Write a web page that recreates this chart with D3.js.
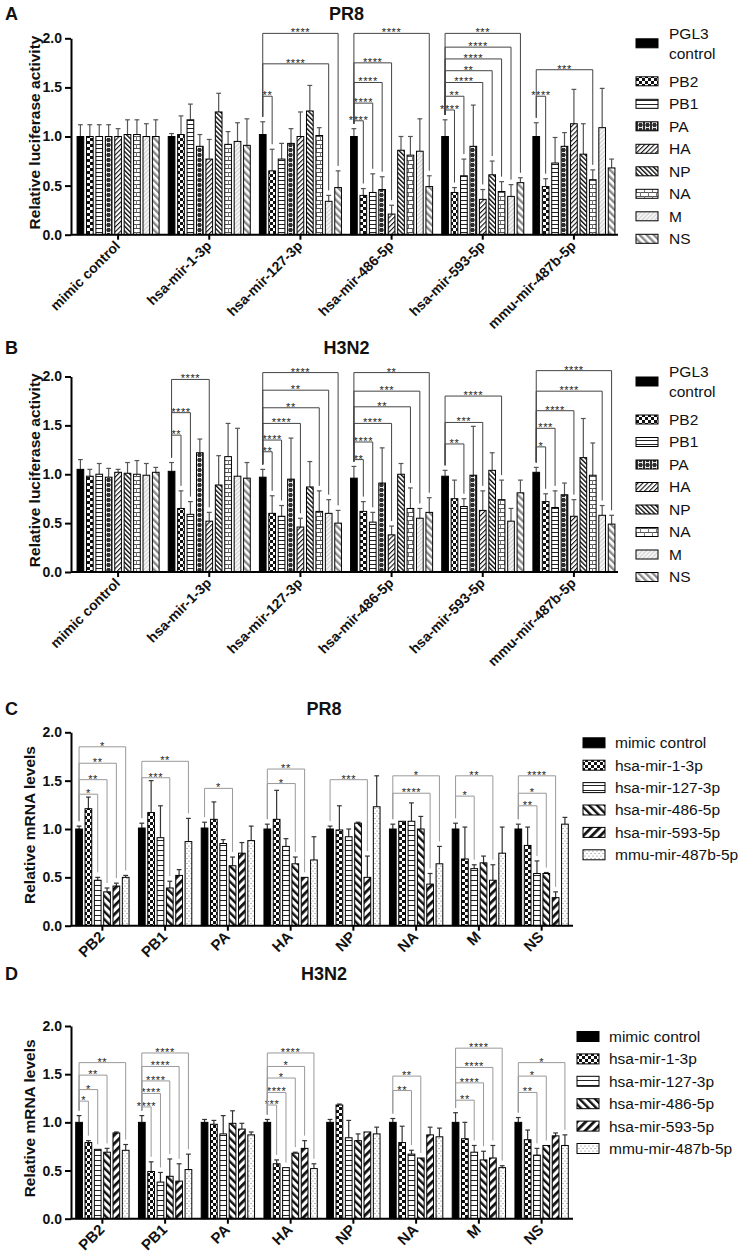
<!DOCTYPE html>
<html><head><meta charset="utf-8">
<script src="https://cdn.jsdelivr.net/npm/d3@7"></script>
<style>body{margin:0;background:#fff;} svg{display:block;font-family:Arial,"Liberation Sans",sans-serif;}</style>
</head><body>
<svg id="chart" width="744" height="1257"></svg>
<script>
// ---------------- DATA ----------------
const lucGroups = ["mimic control","hsa-mir-1-3p","hsa-mir-127-3p","hsa-mir-486-5p","hsa-mir-593-5p","mmu-mir-487b-5p"];
const lucSeries = ["PGL3 control","PB2","PB1","PA","HA","NP","NA","M","NS"];
const mrnaGroups = ["PB2","PB1","PA","HA","NP","NA","M","NS"];
const mrnaSeries = ["mimic control","hsa-mir-1-3p","hsa-mir-127-3p","hsa-mir-486-5p","hsa-mir-593-5p","mmu-mir-487b-5p"];
const yTicks = [0,0.5,1.0,1.5,2.0];

// Panel A: PR8 luciferase (rows = groups, cols = series)
const pr8LucMeans = [
  [1.00,1.00,1.00,1.00,1.00,1.02,1.02,1.00,1.00],
  [1.00,1.02,1.17,0.90,0.77,1.25,0.92,0.95,0.91],
  [1.02,0.65,0.77,0.93,1.00,1.26,1.01,0.34,0.48],
  [1.00,0.40,0.43,0.46,0.21,0.86,0.81,0.85,0.49],
  [1.00,0.43,0.60,0.90,0.36,0.61,0.44,0.39,0.53],
  [1.00,0.49,0.73,0.90,1.13,0.82,0.56,1.09,0.68]
];
const pr8LucErr = [
  [0.12,0.12,0.12,0.12,0.08,0.15,0.15,0.13,0.17],
  [0.03,0.19,0.16,0.12,0.20,0.19,0.13,0.19,0.27],
  [0.13,0.22,0.16,0.15,0.25,0.26,0.08,0.06,0.17],
  [0.08,0.07,0.19,0.13,0.09,0.14,0.19,0.33,0.11],
  [0.17,0.05,0.17,0.42,0.10,0.14,0.10,0.12,0.05],
  [0.14,0.08,0.26,0.14,0.35,0.31,0.10,0.40,0.09]
];
// [group, target series, bracket level, label]
const pr8LucSig = [
  [2,1,1.41,"**"],[2,7,1.74,"****"],[2,8,2.05,"****"],
  [3,1,1.16,"****"],[3,2,1.34,"****"],[3,3,1.55,"****"],[3,4,1.75,"****"],[3,8,2.05,"****"],
  [4,1,1.27,"****"],[4,2,1.41,"**"],[4,4,1.55,"****"],[4,5,1.67,"**"],[4,6,1.79,"****"],[4,7,1.91,"****"],[4,8,2.05,"***"],
  [5,1,1.41,"****"],[5,6,1.68,"***"]
];

// Panel B: H3N2 luciferase
const h3n2LucMeans = [
  [1.05,0.98,1.00,0.97,1.02,1.01,1.00,0.99,1.02],
  [1.03,0.65,0.59,1.22,0.52,0.89,1.18,0.98,0.96],
  [0.97,0.60,0.57,0.95,0.46,0.87,0.62,0.60,0.50],
  [0.96,0.62,0.51,0.91,0.38,1.00,0.65,0.55,0.61],
  [0.98,0.75,0.67,0.99,0.63,1.04,0.74,0.52,0.81],
  [1.02,0.72,0.66,0.79,0.57,1.17,0.99,0.58,0.49]
];
const h3n2LucErr = [
  [0.10,0.07,0.11,0.09,0.03,0.11,0.14,0.12,0.05],
  [0.09,0.18,0.13,0.14,0.09,0.30,0.34,0.49,0.16],
  [0.08,0.18,0.11,0.42,0.09,0.26,0.21,0.14,0.13],
  [0.12,0.10,0.10,0.36,0.09,0.11,0.21,0.10,0.15],
  [0.06,0.19,0.08,0.50,0.20,0.18,0.20,0.13,0.13],
  [0.05,0.08,0.17,0.12,0.17,0.40,0.33,0.10,0.09]
];
const h3n2LucSig = [
  [1,1,1.40,"**"],[1,2,1.63,"****"],[1,4,1.97,"****"],
  [2,1,1.23,"**"],[2,2,1.35,"****"],[2,4,1.52,"****"],[2,6,1.68,"**"],[2,7,1.86,"**"],[2,8,2.04,"****"],
  [3,1,1.15,"**"],[3,2,1.33,"****"],[3,4,1.52,"****"],[3,6,1.69,"**"],[3,7,1.85,"***"],[3,8,2.04,"**"],
  [4,2,1.31,"**"],[4,4,1.53,"***"],[4,6,1.80,"****"],
  [5,1,1.28,"*"],[5,2,1.47,"***"],[5,4,1.65,"****"],[5,7,1.85,"****"],[5,8,2.06,"****"]
];

// Panel C: PR8 mRNA
const pr8MrnaMeans = [
  [1.00,1.21,0.47,0.35,0.41,0.50],
  [1.01,1.17,0.91,0.39,0.52,0.87],
  [1.01,1.10,0.85,0.62,0.75,0.88],
  [1.00,1.10,0.82,0.64,0.50,0.68],
  [1.00,0.99,0.92,1.06,0.50,1.23],
  [1.00,1.08,1.08,1.00,0.43,0.64],
  [1.00,0.69,0.59,0.65,0.47,0.75],
  [1.00,0.83,0.54,0.54,0.29,1.05]
];
const pr8MrnaErr = [
  [0.03,0.12,0.03,0.04,0.03,0.02],
  [0.05,0.33,0.33,0.07,0.06,0.24],
  [0.06,0.18,0.04,0.09,0.11,0.15],
  [0.05,0.30,0.08,0.07,0.00,0.24],
  [0.03,0.25,0.08,0.01,0.22,0.32],
  [0.05,0.00,0.19,0.13,0.11,0.18],
  [0.06,0.33,0.04,0.07,0.16,0.27],
  [0.05,0.19,0.13,0.01,0.06,0.07]
];
const pr8MrnaSig = [
  [0,2,1.36,"*"],[0,3,1.51,"**"],[0,4,1.68,"**"],[0,5,1.85,"*"],
  [1,3,1.53,"***"],[1,5,1.70,"**"],
  [2,3,1.42,"*"],
  [3,3,1.47,"*"],[3,4,1.62,"**"],
  [4,4,1.51,"***"],
  [5,4,1.37,"****"],[5,5,1.55,"*"],
  [6,2,1.34,"*"],[6,4,1.55,"**"],
  [7,2,1.24,"**"],[7,3,1.37,"*"],[7,4,1.55,"****"]
];

// Panel D: H3N2 mRNA
const h3n2MrnaMeans = [
  [1.00,0.79,0.72,0.69,0.89,0.71],
  [1.00,0.49,0.38,0.44,0.39,0.51],
  [1.00,0.98,0.88,0.99,0.93,0.87],
  [1.00,0.57,0.53,0.68,0.73,0.52],
  [1.00,1.18,0.84,0.81,0.90,0.88],
  [1.00,0.79,0.67,0.63,0.87,0.85],
  [1.00,0.83,0.69,0.61,0.63,0.53],
  [1.00,0.82,0.66,0.76,0.86,0.76]
];
const h3n2MrnaErr = [
  [0.07,0.02,0.00,0.04,0.01,0.06],
  [0.07,0.10,0.10,0.18,0.18,0.16],
  [0.03,0.04,0.19,0.13,0.06,0.03],
  [0.03,0.04,0.00,0.01,0.08,0.05],
  [0.03,0.01,0.18,0.07,0.00,0.07],
  [0.04,0.17,0.04,0.00,0.08,0.09],
  [0.10,0.17,0.07,0.09,0.13,0.02],
  [0.05,0.10,0.07,0.00,0.03,0.11]
];
const h3n2MrnaSig = [
  [0,1,1.22,"*"],[0,2,1.34,"*"],[0,3,1.49,"**"],[0,5,1.62,"**"],
  [1,1,1.16,"****"],[1,2,1.30,"****"],[1,3,1.43,"****"],[1,4,1.58,"****"],[1,5,1.72,"****"],
  [3,1,1.18,"***"],[3,2,1.31,"****"],[3,3,1.46,"*"],[3,4,1.58,"*"],[3,5,1.72,"****"],
  [5,2,1.33,"**"],[5,3,1.48,"**"],
  [6,2,1.23,"**"],[6,3,1.41,"****"],[6,4,1.57,"****"],[6,5,1.77,"****"],
  [7,2,1.31,"**"],[7,3,1.48,"*"],[7,5,1.62,"*"]
];

// ---------------- PATTERNS ----------------
const svg = d3.select("#chart");
const defs = svg.append("defs");
function pat(id, w, h, bg, rot) {
  const p = defs.append("pattern").attr("id", id).attr("patternUnits","userSpaceOnUse")
    .attr("width", w).attr("height", h);
  if (rot) p.attr("patternTransform", `rotate(${rot})`);
  p.append("rect").attr("width", w).attr("height", h).attr("fill", bg);
  return p;
}
let p;
p = pat("checker",6,6,"#fff"); p.append("rect").attr("width",3).attr("height",3).attr("fill","#111");
p.append("rect").attr("x",3).attr("y",3).attr("width",3).attr("height",3).attr("fill","#111");
p = pat("hlA",4,4,"#fff"); p.append("rect").attr("width",4).attr("height",1).attr("fill","#222");
p = pat("hlC",5,5,"#fff"); p.append("rect").attr("width",5).attr("height",1).attr("fill","#222");
p = pat("brickD",7,5,"#2e2e2e");
p.append("rect").attr("x",1).attr("y",0.6).attr("width",1).attr("height",3.8).attr("fill","#e8e8e8");
p.append("rect").attr("x",5).attr("y",0.6).attr("width",1).attr("height",3.8).attr("fill","#e8e8e8");
p.append("rect").attr("x",1).attr("y",2).attr("width",5).attr("height",1).attr("fill","#e8e8e8");
p = pat("diagHA",3.4,3.4,"#fff",45); p.append("rect").attr("width",1.1).attr("height",3.4).attr("fill","#111");
p = pat("diagNP",3.3,3.3,"#fff",-45); p.append("rect").attr("width",1.4).attr("height",3.3).attr("fill","#111");
p = pat("brickL",8,8,"#fff");
p.append("rect").attr("width",8).attr("height",1).attr("fill","#555");
p.append("rect").attr("y",4).attr("width",8).attr("height",1).attr("fill","#555");
p.append("rect").attr("x",0).attr("width",1).attr("height",4).attr("fill","#777");
p.append("rect").attr("x",4).attr("y",4).attr("width",1).attr("height",4).attr("fill","#777");
p = pat("lightM",3,3,"#f4f4f4",45); p.append("rect").attr("width",0.8).attr("height",3).attr("fill","#c9c9c9");
p = pat("greyNS",5,5,"#fff",-45); p.append("rect").attr("width",2.4).attr("height",5).attr("fill","#8a8a8a");
p = pat("thick486",5.5,5.5,"#fff",-45); p.append("rect").attr("width",2.4).attr("height",5.5).attr("fill","#111");
p = pat("thick593",6,6,"#fff",45); p.append("rect").attr("width",2.8).attr("height",6).attr("fill","#111");
p = pat("dots",4,5,"#fff");
p.append("circle").attr("cx",1).attr("cy",1).attr("r",0.5).attr("fill","#555");
p.append("circle").attr("cx",3).attr("cy",3.5).attr("r",0.5).attr("fill","#555");

const lucFills = ["#000","url(#checker)","url(#hlA)","url(#brickD)","url(#diagHA)","url(#diagNP)","url(#brickL)","url(#lightM)","url(#greyNS)"];
const mrnaFills = ["#000","url(#checker)","url(#hlC)","url(#thick486)","url(#thick593)","url(#dots)"];

// ---------------- DRAW ----------------
function drawPanel(o) {
  const g = svg.append("g");
  const y = d3.scaleLinear().domain([0,2]).range([o.y0, o.y2]);
  const x0 = d3.scaleBand().domain(o.groups).range(o.xr).paddingInner(o.pi).paddingOuter(o.po);
  const x1 = d3.scaleBand().domain(o.series).range([0, x0.bandwidth()]).paddingInner(o.bpi).paddingOuter(0);
  const bw = x1.bandwidth();
  const cx = (gi, si) => x0(o.groups[gi]) + x1(o.series[si]) + bw / 2;
  const topV = (gi, si) => o.means[gi][si] + o.errs[gi][si];

  // error bars (upper only)
  o.groups.forEach((grp, gi) => o.series.forEach((s, si) => {
    const v = o.means[gi][si], e = o.errs[gi][si];
    if (e <= 0) return;
    const xc = cx(gi, si);
    g.append("line").attr("x1",xc).attr("x2",xc).attr("y1",y(v)).attr("y2",y(v+e))
      .attr("stroke",o.errColor).attr("stroke-width",1.2);
    g.append("line").attr("x1",xc-2.4).attr("x2",xc+2.4).attr("y1",y(v+e)).attr("y2",y(v+e))
      .attr("stroke",o.errColor).attr("stroke-width",1.2);
  }));
  // bars
  o.groups.forEach((grp, gi) => {
    g.append("g").selectAll("rect").data(o.series).join("rect")
      .attr("x", s => x0(grp) + x1(s))
      .attr("y", (s, si) => y(o.means[gi][si]))
      .attr("width", bw)
      .attr("height", (s, si) => y(0) - y(o.means[gi][si]))
      .attr("fill", (s, si) => o.fills[si])
      .attr("stroke", "#000").attr("stroke-width", 1);
  });
  // significance brackets
  o.sig.forEach(([gi, ti, lev, lab]) => {
    const xl = cx(gi, 0), xr = cx(gi, ti), yl = y(lev);
    const yA = y(topV(gi, 0)) - 5, yB = y(topV(gi, ti)) - 5;
    g.append("path").attr("d", `M${xl},${yA}V${yl}H${xr}V${yB}`)
      .attr("fill","none").attr("stroke",o.sigColor).attr("stroke-width",1);
    g.append("text").attr("x",(xl+xr)/2).attr("y",yl+3).attr("text-anchor","middle")
      .attr("font-size",11).attr("letter-spacing",0.6).attr("fill","#222").text(lab);
  });
  // y axis
  const ya = g.append("g").attr("transform",`translate(${o.axisX[0]},0)`)
    .call(d3.axisLeft(y).tickValues(yTicks).tickFormat(d3.format(".1f")).tickSize(6).tickSizeOuter(0).tickPadding(3));
  ya.select(".domain").attr("stroke","#000").attr("stroke-width",2);
  ya.selectAll(".tick line").attr("stroke","#000").attr("stroke-width",2);
  ya.selectAll(".tick text").attr("font-size",14).attr("font-weight","bold").attr("fill","#111").attr("font-family","Arial, Liberation Sans, sans-serif");
  // x axis
  const xa = g.append("g").attr("transform",`translate(0,${o.y0})`)
    .call(d3.axisBottom(x0).tickSize(5).tickSizeOuter(0));
  xa.select(".domain").attr("d",`M${o.axisX[0]},0H${o.axisX[1]}`).attr("stroke","#000").attr("stroke-width",2);
  xa.selectAll(".tick line").attr("stroke","#000").attr("stroke-width",2);
  xa.selectAll(".tick text").attr("font-size",o.xFont).attr("font-weight","bold").attr("fill","#111")
    .attr("font-family","Arial, Liberation Sans, sans-serif")
    .attr("text-anchor","end").attr("x",0).attr("y",0).attr("dy",null)
    .attr("transform",`translate(3,12) rotate(-45)`);
  // y label
  const ym = (o.y0 + o.y2) / 2 - 4;
  g.append("text").attr("transform",`translate(${o.ylabX},${ym}) rotate(-90)`).attr("text-anchor","middle")
    .attr("font-size",15.5).attr("font-weight","bold").attr("fill","#111").text(o.ylab);
  // titles
  g.append("text").attr("x",5).attr("y",o.titleY).attr("font-size",18).attr("font-weight","bold").attr("fill","#111").text(o.letter);
  g.append("text").attr("x",(o.axisX[0]+o.axisX[1])/2 + 2).attr("y",o.titleY).attr("text-anchor","middle")
    .attr("font-size",18).attr("font-weight","bold").attr("fill","#111").text(o.title);
  // legend
  const lg = g.append("g");
  o.series.forEach((s, si) => {
    const cy = o.legRows(si);
    lg.append("rect").attr("x",o.legX).attr("y",cy - o.swH/2).attr("width",22).attr("height",o.swH)
      .attr("fill",o.fills[si]).attr("stroke","#000").attr("stroke-width",1);
    const t = lg.append("text").attr("x",o.legX + o.legTextDx).attr("font-size",15.5).attr("fill","#111");
    if (s === "PGL3 control") {
      t.append("tspan").attr("x",o.legX + o.legTextDx).attr("y",cy - 10).attr("dy","0.35em").text("PGL3");
      t.append("tspan").attr("x",o.legX + o.legTextDx).attr("y",cy + 10).attr("dy","0.35em").text("control");
    } else {
      t.attr("y",cy).attr("dy","0.35em").text(s);
    }
  });
}

function lucLeg(y2) { return si => si === 0 ? y2 + 5 : y2 + 43 + (si - 1) * 22.5; }
function mrnaLeg(y2) { return si => y2 + 10.5 + si * 22.4; }

drawPanel({letter:"A", title:"PR8", ylab:"Relative luciferase activity", groups:lucGroups, series:lucSeries,
  means:pr8LucMeans, errs:pr8LucErr, sig:pr8LucSig, fills:lucFills, y0:234.7, y2:38.3, titleY:20,
  xr:[72.5,619.5], axisX:[71,618], pi:0.1, po:0.05, bpi:0.29, errColor:"#555", sigColor:"#444", xFont:14,
  ylabX:40, legX:636, legTextDx:33, swH:9, legRows:lucLeg(38.3)});
drawPanel({letter:"B", title:"H3N2", ylab:"Relative luciferase activity", groups:lucGroups, series:lucSeries,
  means:h3n2LucMeans, errs:h3n2LucErr, sig:h3n2LucSig, fills:lucFills, y0:572, y2:376.5, titleY:354,
  xr:[72.5,619.5], axisX:[71,618], pi:0.1, po:0.05, bpi:0.29, errColor:"#555", sigColor:"#444", xFont:14,
  ylabX:40, legX:636, legTextDx:33, swH:9, legRows:lucLeg(376.5)});
drawPanel({letter:"C", title:"PR8", ylab:"Relative mRNA levels", groups:mrnaGroups, series:mrnaSeries,
  means:pr8MrnaMeans, errs:pr8MrnaErr, sig:pr8MrnaSig, fills:mrnaFills, y0:925.7, y2:732.3, titleY:715,
  xr:[71,573], axisX:[71,573], pi:0.15, po:0.075, bpi:0.28, errColor:"#333", sigColor:"#999", xFont:15,
  ylabX:35, legX:583, legTextDx:32, swH:10, legRows:mrnaLeg(732.3)});
drawPanel({letter:"D", title:"H3N2", ylab:"Relative mRNA levels", groups:mrnaGroups, series:mrnaSeries,
  means:h3n2MrnaMeans, errs:h3n2MrnaErr, sig:h3n2MrnaSig, fills:mrnaFills, y0:1218.7, y2:1026, titleY:980,
  xr:[71,573], axisX:[71,573], pi:0.15, po:0.075, bpi:0.28, errColor:"#333", sigColor:"#999", xFont:15,
  ylabX:35, legX:577, legTextDx:32, swH:10, legRows:mrnaLeg(1026)});
</script>
</body></html>
